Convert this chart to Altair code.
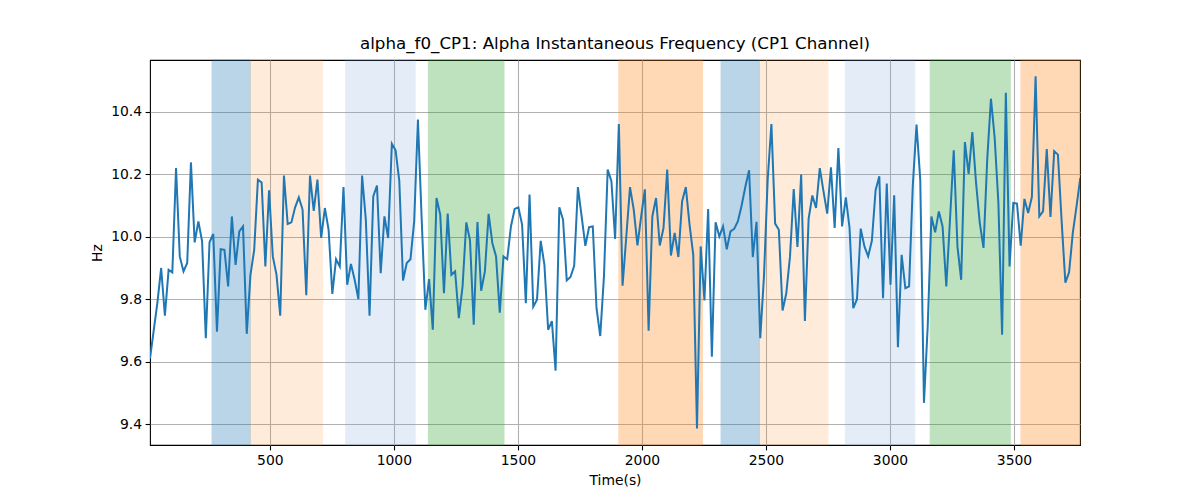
import altair as alt
import pandas as pd

# ---------------- data ----------------
t_start = 17.0
t_step = 15.0
values = [
    9.61, 9.70, 9.79, 9.90, 9.747, 9.894, 9.886, 10.22, 9.937, 9.889,
    9.916, 10.238, 9.982, 10.049, 9.985, 9.675, 9.982, 10.009, 9.696, 9.96,
    9.958, 9.841, 10.065, 9.91, 10.017, 10.033, 9.689, 9.878, 9.958, 10.183,
    10.174, 9.905, 10.149, 9.937, 9.878, 9.747, 10.196, 10.041, 10.046, 10.094,
    10.126, 10.087, 9.813, 10.196, 10.083, 10.183, 9.996, 10.092, 10.022, 9.817,
    9.928, 9.905, 10.159, 9.846, 9.913, 9.862, 9.80, 10.196, 10.055, 9.747,
    10.129, 10.164, 9.883, 10.065, 9.996, 10.298, 10.277, 10.178, 9.86, 9.916,
    9.928, 10.049, 10.375, 10.06, 9.766, 9.864, 9.702, 10.124, 10.071, 9.819,
    10.074, 9.878, 9.889, 9.739, 9.841, 10.046, 9.988, 9.718, 10.047, 9.827,
    9.889, 10.073, 9.980, 9.937, 9.757, 9.937, 9.928, 10.033, 10.089, 10.094,
    10.039, 9.787, 10.135, 9.776, 9.798, 9.987, 9.91, 9.702, 9.730, 9.571,
    10.094, 10.055, 9.86, 9.871, 9.907, 10.159, 10.065, 9.971, 10.031, 10.033,
    9.771, 9.682, 9.873, 10.215, 10.178, 9.993, 10.361, 9.843, 10.00, 10.159,
    10.087, 9.972, 10.065, 10.152, 9.699, 10.065, 10.124, 9.972, 10.028, 10.215,
    9.94, 10.012, 9.935, 10.113, 10.159, 10.039, 9.942, 9.386, 9.969, 9.796,
    10.089, 9.616, 10.046, 10.001, 10.033, 9.96, 10.017, 10.025, 10.05, 10.10,
    10.16, 10.213, 9.935, 10.048, 9.675, 9.873, 10.183, 10.361, 10.042, 10.022,
    9.764, 9.819, 9.937, 10.153, 9.967, 10.199, 9.730, 10.057, 10.132, 10.092,
    10.22, 10.145, 10.074, 10.222, 10.028, 10.284, 10.033, 10.126, 10.028, 9.771,
    9.80, 10.026, 9.969, 9.937, 9.987, 10.149, 10.194, 9.803, 10.17, 9.846,
    10.133, 9.646, 9.942, 9.835, 9.841, 10.164, 10.359, 10.183, 9.468, 9.712,
    10.065, 10.014, 10.081, 10.033, 9.841, 10.055, 10.277, 9.969, 9.862, 10.303,
    10.201, 10.335, 10.172, 10.044, 9.964, 10.247, 10.442, 10.317, 10.108, 9.686,
    10.461, 9.905, 10.108, 10.106, 9.971, 10.121, 10.076, 10.127, 10.514, 10.065,
    10.081, 10.281, 10.063, 10.274, 10.263, 10.05, 9.853, 9.886, 10.012, 10.097,
    10.188,
]
times = [t_start + t_step * i for i in range(len(values))]

span_start = [267, 421, 806, 1139, 1907, 2319, 2473, 2820, 3162, 3528]
span_end = [421, 712, 1086, 1444, 2244, 2473, 2750, 3100, 3485, 3766]
span_color = ["#1f77b4", "#ff7f0e", "#6f9fd8", "#2ca02c", "#ff7f0e",
              "#1f77b4", "#ff7f0e", "#6f9fd8", "#2ca02c", "#ff7f0e"]
span_alpha = [0.3, 0.15, 0.18, 0.3, 0.3, 0.3, 0.15, 0.18, 0.3, 0.3]

x_ticks = [500, 1000, 1500, 2000, 2500, 3000, 3500]
y_ticks = [9.4, 9.6, 9.8, 10.0, 10.2, 10.4]
x_domain = [17, 3766]
y_domain = [9.333, 10.566]

title = "alpha_f0_CP1: Alpha Instantaneous Frequency (CP1 Channel)"

# ---------------- chart ----------------
line_df = pd.DataFrame({"t": times, "v": values})
span_df = pd.DataFrame({"s": span_start, "e": span_end, "c": span_color, "a": span_alpha})

W, H = 930, 385
FONT = "DejaVu Sans"

xscale = alt.Scale(domain=x_domain, nice=False, zero=False)
yscale = alt.Scale(domain=y_domain, nice=False, zero=False)

spans = alt.Chart(span_df).mark_rect(strokeWidth=1).encode(
    x=alt.X("s:Q", scale=xscale,
            axis=alt.Axis(values=x_ticks, title="Time(s)", format="d")),
    x2="e:Q",
    y=alt.value(0),
    y2=alt.value(H),
    color=alt.Color("c:N", scale=None),
    stroke=alt.Stroke("c:N", scale=None),
    opacity=alt.Opacity("a:Q", scale=None),
)

line = alt.Chart(line_df).mark_line(color="#1f77b4", strokeWidth=2.0, clip=True).encode(
    x=alt.X("t:Q", scale=xscale),
    y=alt.Y("v:Q", scale=yscale,
            axis=alt.Axis(values=y_ticks, title="Hz", format=".1f")),
)

chart = alt.layer(spans, line).properties(
    width=W,
    height=H,
    background="white",
    title=alt.TitleParams(title, fontSize=16.7, font=FONT, fontWeight="normal",
                          color="black", anchor="middle", offset=7),
    autosize=alt.AutoSizeParams(type="none"),
    padding={"left": 142, "top": 52, "right": 112, "bottom": 47},
).configure_view(
    stroke="black", strokeWidth=1.1
).configure_axis(
    labelFont=FONT, titleFont=FONT, labelFontSize=13.9, titleFontSize=13.9,
    titleFontWeight="normal", labelColor="black", titleColor="black",
    grid=True, gridColor="#b0b0b0", gridWidth=1.1, gridOpacity=1,
    domain=False, tickColor="black", tickSize=4.9, tickWidth=1.1,
    labelPadding=3.5, titlePadding=6,
)

chart.save("out.html", embed_options={"renderer": "svg", "actions": False})
